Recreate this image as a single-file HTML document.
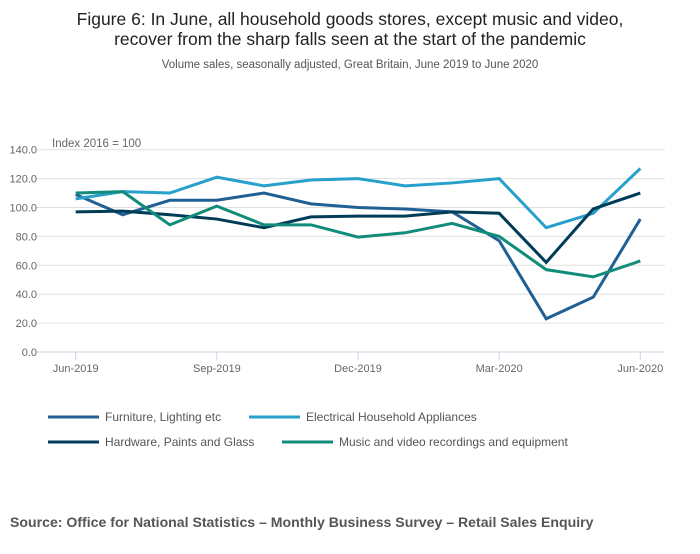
<!DOCTYPE html>
<html><head><meta charset="utf-8"><style>
body{margin:0;background:#fff;font-family:"Liberation Sans",sans-serif;}
svg text{font-family:"Liberation Sans",sans-serif;}
</style></head><body>
<svg width="700" height="549" xmlns="http://www.w3.org/2000/svg">
<text x="350" y="25" text-anchor="middle" font-size="17.5" fill="#222">Figure 6: In June, all household goods stores, except music and video,</text>
<text x="350" y="45" text-anchor="middle" font-size="17.5" fill="#222">recover from the sharp falls seen at the start of the pandemic</text>
<text x="350" y="68" text-anchor="middle" font-size="11.5" fill="#555">Volume sales, seasonally adjusted, Great Britain, June 2019 to June 2020</text>
<text x="52" y="147" font-size="11.5" fill="#666">Index 2016 = 100</text>
<g id="grid"></g><g id="lines"></g><g id="legend"></g>
<text x="10" y="527" font-size="14.1" font-weight="bold" fill="#555">Source: Office for National Statistics – Monthly Business Survey – Retail Sales Enquiry</text>
</svg>
<script>
const months=["Jun-2019","Jul-2019","Aug-2019","Sep-2019","Oct-2019","Nov-2019","Dec-2019","Jan-2020","Feb-2020","Mar-2020","Apr-2020","May-2020","Jun-2020"];
const tickLabels=["Jun-2019","Sep-2019","Dec-2019","Mar-2020","Jun-2020"];
const yTicks=[0,20,40,60,80,100,120,140];
const seriesNames=["Furniture, Lighting etc","Electrical Household Appliances","Hardware, Paints and Glass","Music and video recordings and equipment"];
const furniture=[109,95,105,105,110,102.5,100,99,97,77,23,38,92];
const electrical=[106,111,110,121,115,119,120,115,117,120,86,96,127];
const hardware=[97,97.5,95,92,86,93.5,94,94,97,96,62,99,110];
const music=[110,111,88,101,88,88,79.5,82.5,89,80,57,52,63];
const NS="http://www.w3.org/2000/svg";
const x=i=>75.7+i*(640.3-75.7)/12;
const y=v=>352-v*(352-149.7)/140;
function mk(t,a,p){const e=document.createElementNS(NS,t);for(const k in a)e.setAttribute(k,a[k]);p.appendChild(e);return e;}
const grid=document.getElementById('grid');
yTicks.forEach(v=>{
 const l=mk('line',{x1:36,x2:665,y1:y(v),y2:y(v),stroke:v===0?'#c8d4e8':'#e0e0e0','stroke-width':1},grid);
 
 
 const t=mk('text',{x:37,y:y(v)+4,'text-anchor':'end','font-size':11,fill:'#666'},grid);
 t.textContent=v.toFixed(1);
 
 
});
tickLabels.forEach(lb=>{
 const i=months.indexOf(lb);
 const l=mk('line',{x1:x(i),x2:x(i),y1:352,y2:360,stroke:'#c8d4e8'},grid);
 
 
 const t=mk('text',{x:x(i),y:372,'text-anchor':'middle','font-size':11,fill:'#666'},grid);
 t.textContent=lb;
 
 
});
const data=[furniture,electrical,hardware,music];
const colors=["#206095","#27a0cc","#003c57","#118c7b"];
const keys=["furniture","electrical","hardware","music"];
const lg=document.getElementById('lines');
data.forEach((s,k)=>{
 const p=mk('polyline',{points:s.map((v,i)=>x(i)+','+y(v)).join(' '),fill:'none',stroke:colors[k],'stroke-width':3,'stroke-linejoin':'miter'},lg);
 
 
});
const leg=document.getElementById('legend');
const lpos=[[48,417],[249,417],[48,442],[282,442]];
seriesNames.forEach((n,k)=>{
 const [lx,ly]=lpos[k];
 const g=mk('g',{},leg);
 
 
 mk('line',{x1:lx,x2:lx+51,y1:ly,y2:ly,stroke:colors[k],'stroke-width':3},g);
 const t=mk('text',{x:lx+57,y:ly+4,'font-size':12,fill:'#555'},g);
 t.textContent=n;
});
</script>
</body></html>
